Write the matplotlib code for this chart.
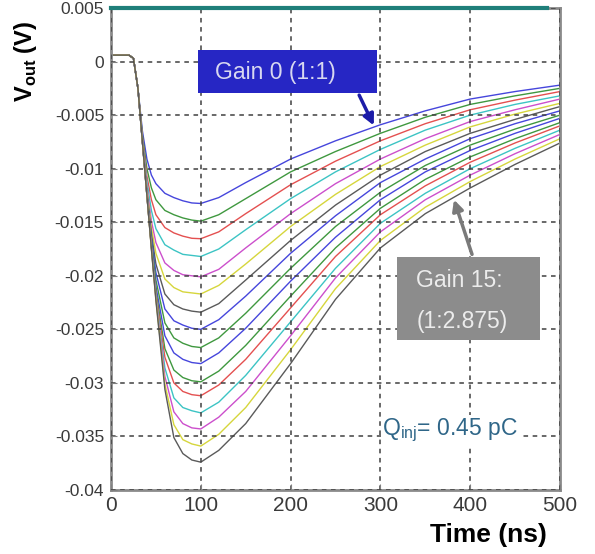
import matplotlib
matplotlib.use("Agg")
import matplotlib.pyplot as plt
from matplotlib.patches import Rectangle

plt.rcParams['font.family'] = ['Liberation Sans', 'DejaVu Sans']
plt.rcParams['mathtext.fontset'] = 'custom'
plt.rcParams['mathtext.rm'] = 'Liberation Sans'
plt.rcParams['mathtext.bf'] = 'Liberation Sans:bold'

# time axis (ns)
t_ns = [0, 20, 25, 30, 35, 40, 45, 50, 60, 70, 80, 90, 100,
        120, 150, 200, 250, 300, 350, 400, 450, 500]

# Vout (V) for gain settings 0..15
v_g0 = [0.0006, 0.0006, 0.0003, -0.0025, -0.0065, -0.0091, -0.0106, -0.0114, -0.0123, -0.0127, -0.0130, -0.0132, -0.01325,
        -0.0127, -0.0113, -0.0091, -0.0074, -0.0059, -0.0046, -0.0035, -0.0028, -0.0022]
v_g1 = [0.0006, 0.0006, 0.0003, -0.0025, -0.0069, -0.0100, -0.0118, -0.0129, -0.0139, -0.0143, -0.0146, -0.0148, -0.0149,
        -0.0143, -0.0128, -0.0103, -0.0084, -0.0067, -0.0052, -0.0040, -0.0032, -0.0025]
v_g2 = [0.0006, 0.0006, 0.0003, -0.0025, -0.0071, -0.0107, -0.0129, -0.0143, -0.0155, -0.0160, -0.0163, -0.0165, -0.01654,
        -0.0159, -0.0142, -0.0115, -0.0093, -0.0074, -0.0058, -0.0045, -0.0036, -0.0028]
v_g3 = [0.0006, 0.0006, 0.0003, -0.0025, -0.0073, -0.0112, -0.0139, -0.0156, -0.0171, -0.0176, -0.0180, -0.0181, -0.0182,
        -0.0175, -0.0157, -0.0128, -0.0103, -0.0082, -0.0064, -0.0050, -0.0040, -0.0032]
v_g4 = [0.0006, 0.0006, 0.0003, -0.0025, -0.0074, -0.0117, -0.0149, -0.0169, -0.0188, -0.0195, -0.0199, -0.0200, -0.0201,
        -0.0194, -0.0174, -0.0142, -0.0114, -0.0091, -0.0072, -0.0056, -0.0045, -0.0035]
v_g5 = [0.0006, 0.0006, 0.0003, -0.0025, -0.0074, -0.0120, -0.0155, -0.0179, -0.0203, -0.0211, -0.0215, -0.0216, -0.0217,
        -0.0209, -0.0189, -0.0154, -0.0124, -0.0098, -0.0078, -0.0061, -0.0049, -0.0039]
v_g6 = [0.0006, 0.0006, 0.0003, -0.0025, -0.0075, -0.0122, -0.0161, -0.0189, -0.0217, -0.0227, -0.0231, -0.0233, -0.0234,
        -0.0226, -0.0204, -0.0167, -0.0134, -0.0106, -0.0084, -0.0067, -0.0054, -0.0042]
v_g7 = [0.0006, 0.0006, 0.0003, -0.0025, -0.0075, -0.0123, -0.0165, -0.0197, -0.0231, -0.0242, -0.0246, -0.0249, -0.0250,
        -0.0241, -0.0219, -0.0179, -0.0144, -0.0113, -0.0091, -0.0072, -0.0058, -0.0046]
v_g8 = [0.0006, 0.0006, 0.0003, -0.0025, -0.0075, -0.0124, -0.0168, -0.0204, -0.0244, -0.0258, -0.0263, -0.0266, -0.0267,
        -0.0258, -0.0235, -0.0193, -0.0154, -0.0122, -0.0097, -0.0078, -0.0063, -0.0050]
v_g9 = [0.0006, 0.0006, 0.0003, -0.0025, -0.0075, -0.0124, -0.0171, -0.0210, -0.0256, -0.0272, -0.0278, -0.0281, -0.0282,
        -0.0272, -0.0249, -0.0205, -0.0164, -0.0129, -0.0103, -0.0083, -0.0067, -0.0053]
v_g10 = [0.0006, 0.0006, 0.0003, -0.0025, -0.0075, -0.0125, -0.0172, -0.0214, -0.0268, -0.0288, -0.0295, -0.0298, -0.0299,
         -0.0289, -0.0265, -0.0219, -0.0174, -0.0137, -0.0110, -0.0089, -0.0072, -0.0057]
v_g11 = [0.0006, 0.0006, 0.0003, -0.0025, -0.0075, -0.0125, -0.0173, -0.0217, -0.0276, -0.0300, -0.0308, -0.0311, -0.0312,
         -0.0302, -0.0278, -0.0230, -0.0182, -0.0143, -0.0116, -0.0094, -0.0076, -0.0060]
v_g12 = [0.0006, 0.0006, 0.0003, -0.0025, -0.0075, -0.0125, -0.0174, -0.0219, -0.0286, -0.0314, -0.0323, -0.0326, -0.0328,
         -0.0318, -0.0293, -0.0243, -0.0193, -0.0151, -0.0123, -0.0100, -0.0081, -0.0064]
v_g13 = [0.0006, 0.0006, 0.0003, -0.0025, -0.0075, -0.0125, -0.0174, -0.0221, -0.0294, -0.0327, -0.0338, -0.0342, -0.0343,
         -0.0332, -0.0308, -0.0256, -0.0202, -0.0159, -0.0129, -0.0106, -0.0086, -0.0068]
v_g14 = [0.0006, 0.0006, 0.0003, -0.0025, -0.0075, -0.0125, -0.0175, -0.0222, -0.0301, -0.0339, -0.0353, -0.0357, -0.0359,
         -0.0348, -0.0323, -0.0269, -0.0212, -0.0167, -0.0136, -0.0112, -0.0091, -0.0072]
v_g15 = [0.0006, 0.0006, 0.0003, -0.0025, -0.0075, -0.0125, -0.0175, -0.0223, -0.0306, -0.0351, -0.0366, -0.0372, -0.0374,
         -0.0363, -0.0338, -0.0282, -0.0222, -0.0174, -0.0142, -0.0118, -0.0096, -0.0076]

curves = [v_g0, v_g1, v_g2, v_g3, v_g4, v_g5, v_g6, v_g7,
          v_g8, v_g9, v_g10, v_g11, v_g12, v_g13, v_g14, v_g15]

# matlab-ish colour order as seen in the picture (a bit washed out)
b, g, r, c, m, y, k = '#4646dc', '#3f983f', '#e45050', '#3cc4c4', '#cc4fcc', '#d6d63c', '#5a5a5a'
line_colors = [b, g, r, c, m, y, k, b, g, b, g, r, c, m, y, k]

# teal line along the top
top_t = [0, 485]
top_v = [0.005, 0.005]

yticks = [0.005, 0, -0.005, -0.01, -0.015, -0.02, -0.025, -0.03, -0.035, -0.04]
ytick_labels = ['0.005', '0', '-0.005', '-0.01', '-0.015', '-0.02', '-0.025', '-0.03', '-0.035', '-0.04']
xticks = [0, 100, 200, 300, 400, 500]

fig = plt.figure(figsize=(5.95, 5.54), dpi=100)
ax = fig.add_axes([111 / 595, 1 - 490 / 554, 449 / 595, 482 / 554])

for vals, col in zip(curves, line_colors):
    ax.plot(t_ns, vals, color=col, lw=1.0)

ax.plot(top_t, top_v, color='#1f7f7a', lw=3, clip_on=False, zorder=5)

ax.set_xlim(0, 500)
ax.set_ylim(-0.04, 0.005)
ax.set_yticks(yticks)
ax.set_yticklabels(ytick_labels)
ax.set_xticks(xticks)
ax.tick_params(axis='y', labelsize=12.5, labelcolor='#3a3a3a', direction='in', length=4, color='#808080', pad=5)
ax.tick_params(axis='x', labelsize=15, labelcolor='#3a3a3a', direction='in', length=4, color='#808080', pad=4)
for s in ax.spines.values():
    s.set_color('#8a8a8a')
    s.set_linewidth(2)

ax.grid(True, color='#404040', linestyle=(0, (3, 3)), lw=1.1)
ax.set_axisbelow(False)

ax.set_ylabel(r'V$_{\mathbf{out}}$ (V)', fontsize=17, fontweight='bold')
ax.yaxis.set_label_coords(-0.16, 0.89)
ax.set_xlabel('Time (ns)', fontsize=19, fontweight='bold', va='center')
ax.xaxis.set_label_coords(0.84, -0.093)

# Gain 0 label box + arrow
ax.add_patch(Rectangle((97, -0.00294), 199, 0.00402, facecolor='#2626c4', edgecolor='none', zorder=6))
ax.text(116, -0.00098, 'Gain 0 (1:1)', color='#d8d8f0', fontsize=16.5, va='center', ha='left', zorder=7)
ax.annotate('', xy=(294, -0.0062), xytext=(275, -0.0029),
            arrowprops=dict(arrowstyle='-|>', color='#1c1ca8', lw=2.5, mutation_scale=16), zorder=7)

# Gain 15 label box + arrow
ax.add_patch(Rectangle((318.5, -0.0260), 159, 0.00775, facecolor='#8c8c8c', edgecolor='none', zorder=6))
ax.text(340, -0.0204, 'Gain 15:', color='#ececec', fontsize=16.5, va='center', ha='left', zorder=7)
ax.text(340, -0.0243, '(1:2.875)', color='#ececec', fontsize=16.5, va='center', ha='left', zorder=7)
ax.annotate('', xy=(381, -0.01265), xytext=(403, -0.01825),
            arrowprops=dict(arrowstyle='-|>', color='#7a7a7a', lw=2.5, mutation_scale=16), zorder=7)

ax.text(302, -0.0344, r'Q$_{\mathrm{inj}}$= 0.45 pC', color='#2f6688', fontsize=16.5,
        va='center', ha='left', zorder=7,
        bbox=dict(facecolor='white', edgecolor='none', pad=1))

fig.savefig('out.png', dpi=100)
